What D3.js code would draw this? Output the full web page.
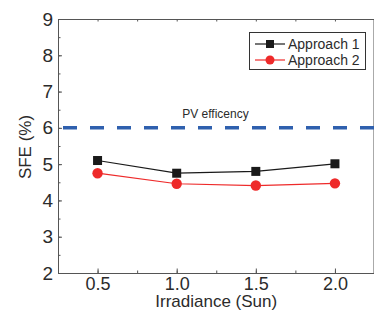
<!DOCTYPE html>
<html>
<head>
<meta charset="utf-8">
<script src="https://cdn.jsdelivr.net/npm/d3@7"></script>
<style>
  body { margin: 0; background: #fff; }
  svg text { font-family: "Liberation Sans", Arial, sans-serif; fill: #2b2b2b; }
</style>
</head>
<body>
<div id="chart"></div>
<script>
// data
const irradiance = [0.5, 1.0, 1.5, 2.0];
const approach1 = [5.10, 4.75, 4.80, 5.01];
const approach2 = [4.75, 4.46, 4.41, 4.47];
const pvEfficiency = 6;
const xTicks = [0.5, 1.0, 1.5, 2.0];
const yTicks = [2, 3, 4, 5, 6, 7, 8, 9];
const seriesNames = ["Approach 1", "Approach 2"];

const width = 374, height = 314;
const margin = { top: 19, left: 58, right: 0, bottom: 41 };

const svg = d3.select("#chart").append("svg")
    .attr("width", width)
    .attr("height", height);

/*
SCALES
*/
const xScale = d3.scaleLinear()
    .domain([0.25, 2.25])
    .range([margin.left, 374.5]);

const yScale = d3.scaleLinear()
    .domain([2, 9])
    .range([height - margin.bottom, margin.top]);

const axisColor = "#555";

/*
AXES: major + minor ticks, all pointing inward
*/
function styleAxis(g) {
    g.selectAll("path, line").attr("stroke", axisColor).attr("stroke-width", 1);
    g.select(".domain").attr("stroke", axisColor);
}

const xMinor = d3.range(0.25, 2.26, 0.25);
const yMinor = d3.range(2, 9.01, 0.5);

// bottom
svg.append("g")
    .attr("transform", `translate(0,${yScale(2)})`)
    .call(d3.axisBottom(xScale).tickValues(xMinor).tickSize(-2.5).tickFormat("").tickSizeOuter(0))
    .call(styleAxis);
const xAxis = svg.append("g")
    .attr("transform", `translate(0,${yScale(2)})`)
    .call(d3.axisBottom(xScale).tickValues(xTicks).tickSize(-4.5).tickFormat(d3.format(".1f")).tickSizeOuter(0).tickPadding(6))
    .call(styleAxis);
xAxis.selectAll("text").attr("font-size", 18).attr("dy", "0.75em").attr("y", 3);

// top
svg.append("g")
    .attr("transform", `translate(0,${yScale(9)})`)
    .call(d3.axisTop(xScale).tickValues(xMinor).tickSize(-2.5).tickFormat("").tickSizeOuter(0))
    .call(styleAxis);

// left
svg.append("g")
    .attr("transform", `translate(${margin.left},0)`)
    .call(d3.axisLeft(yScale).tickValues(yMinor).tickSize(-2.5).tickFormat("").tickSizeOuter(0))
    .call(styleAxis);
const yAxis = svg.append("g")
    .attr("transform", `translate(${margin.left},0)`)
    .call(d3.axisLeft(yScale).tickValues(yTicks).tickSize(-4).tickFormat(d3.format("d")).tickSizeOuter(0).tickPadding(6))
    .call(styleAxis);
yAxis.selectAll("text").attr("font-size", 19).attr("x", -5);

// right
svg.append("g")
    .attr("transform", `translate(${xScale(2.25) - 1},0)`)
    .call(d3.axisRight(yScale).tickValues(yMinor).tickSize(0).tickFormat("").tickSizeOuter(0))
    .call(styleAxis);

/*
PV EFFICIENCY LINE
*/
svg.append("line")
    .attr("x1", xScale(0.25) + 5)
    .attr("x2", xScale(2.25))
    .attr("y1", yScale(pvEfficiency))
    .attr("y2", yScale(pvEfficiency))
    .attr("stroke", "#2f60ae")
    .attr("stroke-width", 3.5)
    .attr("stroke-dasharray", "14,13");

svg.append("text")
    .attr("x", xScale(1.245))
    .attr("y", yScale(pvEfficiency) - 10)
    .attr("text-anchor", "middle")
    .attr("font-size", 12)
    .text("PV efficency");

/*
SERIES
*/
const line = d3.line()
    .x((d, i) => xScale(irradiance[i]))
    .y(d => yScale(d));

svg.append("path")
    .datum(approach1)
    .attr("d", line)
    .attr("fill", "none")
    .attr("stroke", "#1a1a1a")
    .attr("stroke-width", 1.2);

svg.append("path")
    .datum(approach2)
    .attr("d", line)
    .attr("fill", "none")
    .attr("stroke", "#ee2a2a")
    .attr("stroke-width", 1.2);

svg.selectAll(".sq")
    .data(approach1)
    .enter()
    .append("rect")
    .attr("x", (d, i) => xScale(irradiance[i]) - 4.5)
    .attr("y", d => yScale(d) - 4.5)
    .attr("width", 9)
    .attr("height", 9)
    .attr("fill", "#1a1a1a");

svg.selectAll(".dot")
    .data(approach2)
    .enter()
    .append("circle")
    .attr("cx", (d, i) => xScale(irradiance[i]))
    .attr("cy", d => yScale(d))
    .attr("r", 5.2)
    .attr("fill", "#ee2a2a");

/*
LEGEND
*/
const legend = svg.append("g");
legend.append("rect")
    .attr("x", 249.5)
    .attr("y", 32.5)
    .attr("width", 116)
    .attr("height", 37)
    .attr("fill", "#fff")
    .attr("stroke", "#333")
    .attr("stroke-width", 1);

const legendRows = [
    { name: seriesNames[0], color: "#1a1a1a", shape: "square", y: 44 },
    { name: seriesNames[1], color: "#ee2a2a", shape: "circle", y: 60 }
];
legendRows.forEach(function (r) {
    legend.append("line")
        .attr("x1", 255).attr("x2", 285)
        .attr("y1", r.y).attr("y2", r.y)
        .attr("stroke", r.color).attr("stroke-width", 1.2);
    if (r.shape === "square") {
        legend.append("rect")
            .attr("x", 270 - 4).attr("y", r.y - 4)
            .attr("width", 8).attr("height", 8)
            .attr("fill", r.color);
    } else {
        legend.append("circle")
            .attr("cx", 270).attr("cy", r.y).attr("r", 4.5)
            .attr("fill", r.color);
    }
    legend.append("text")
        .attr("x", 288)
        .attr("y", r.y + 5)
        .attr("font-size", 14)
        .text(r.name);
});

/*
AXIS TITLES
*/
svg.append("text")
    .attr("x", (xScale(0.25) + xScale(2.25)) / 2)
    .attr("y", 307)
    .attr("text-anchor", "middle")
    .attr("font-size", 17)
    .text("Irradiance (Sun)");

svg.append("text")
    .attr("transform", `translate(31,${yScale(5.5) + 1}) rotate(-90)`)
    .attr("text-anchor", "middle")
    .attr("font-size", 17)
    .text("SFE (%)");
</script>
</body>
</html>
